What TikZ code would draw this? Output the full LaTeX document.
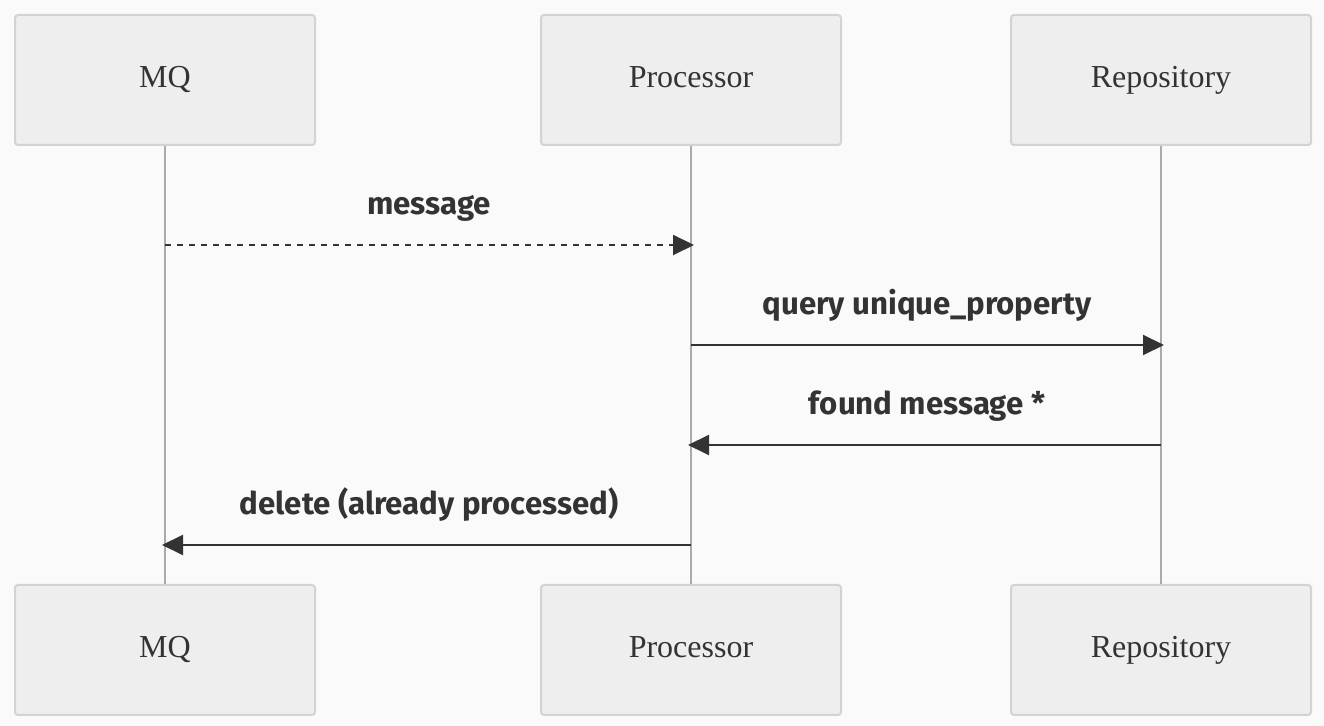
\documentclass[tikz,border=0pt]{standalone}
\usepackage{fontspec}
\setmainfont{Liberation Serif}
\newfontfamily\msgfont{Fira Sans}
\usetikzlibrary{arrows.meta}
\definecolor{bgc}{HTML}{FAFAFA}
\definecolor{boxfill}{HTML}{EEEEEE}
\definecolor{boxdraw}{HTML}{D3D3D3}
\definecolor{lifec}{HTML}{AAAAAA}
\definecolor{ink}{HTML}{333333}
\tikzset{
  actor/.style={draw=boxdraw, fill=boxfill, line width=1pt, rounded corners=1.5pt,
    minimum width=150pt, minimum height=65pt, inner sep=0pt, text=ink,
    text height=12pt, text depth=4pt,
    font=\fontsize{16}{19}\selectfont},
  lifeline/.style={draw=lifec, line width=0.75pt},
  msg/.style={draw=ink, line width=1pt, -{Triangle[length=10.5pt,width=10pt]}},
  dashmsg/.style={msg, dash pattern=on 3pt off 3pt},
  msglabel/.style={text=ink, anchor=base, font=\msgfont\bfseries\fontsize{15.6}{18}\selectfont, inner sep=0pt}
}
\begin{document}
\begin{tikzpicture}[x=0.5pt,y=-0.5pt]
\fill[bgc] (0,0) rectangle (1324,726);
\useasboundingbox (0,0) rectangle (1324,726);
% participants
\node[actor] (mqT) at (165,80) {MQ};
\node[actor] (prT) at (691,80) {Processor};
\node[actor] (reT) at (1161,80) {Repository};
\node[actor] (mqB) at (165,650) {MQ};
\node[actor] (prB) at (691,650) {Processor};
\node[actor] (reB) at (1161,650) {Repository};
% lifelines
\draw[lifeline] (mqT.south) -- (mqB.north);
\draw[lifeline] (prT.south) -- (prB.north);
\draw[lifeline] (reT.south) -- (reB.north);
% message anchor points
\coordinate (a1) at (165,245);
\coordinate (b1) at (694,245);
\coordinate (a2) at (691,345);
\coordinate (b2) at (1164,345);
\coordinate (a3) at (1161,445);
\coordinate (b3) at (688,445);
\coordinate (a4) at (691,545);
\coordinate (b4) at (162,545);
% messages
\draw[dashmsg] (a1) -- (b1);
\draw[msg] (a2) -- (b2);
\draw[msg] (a3) -- (b3);
\draw[msg] (a4) -- (b4);
% labels
\node[msglabel] (l1) at (429,215) {message};
\node[msglabel] (l2) at (927,315) {query unique\_property};
\node[msglabel] (l3) at (927,415) {found message *};
\node[msglabel] (l4) at (429,515) {delete (already processed)};
\end{tikzpicture}
\end{document}
